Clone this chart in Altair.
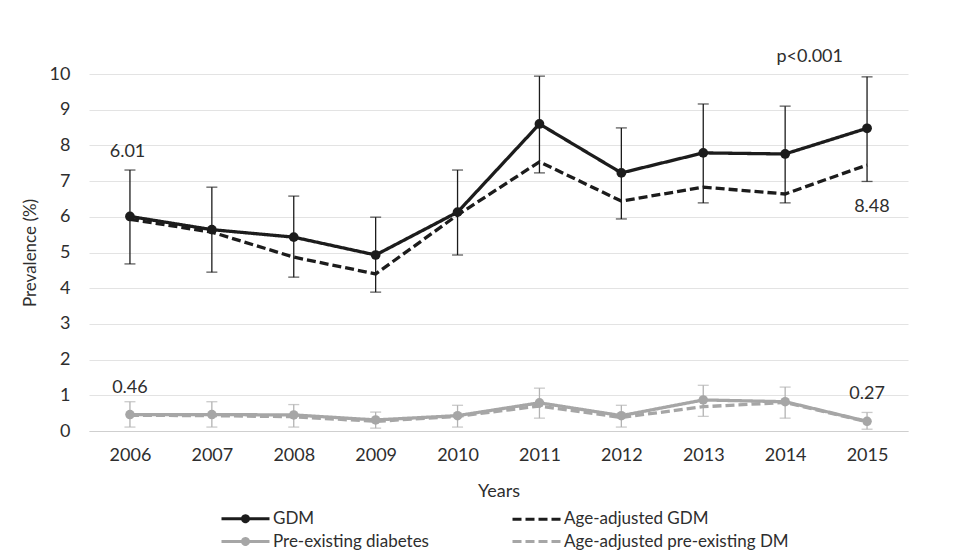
import altair as alt
import pandas as pd

years = list(range(2006, 2016))
gdm = [6.01, 5.64, 5.43, 4.93, 6.13, 8.60, 7.23, 7.79, 7.76, 8.48]
gdm_lo = [4.68, 4.45, 4.31, 3.89, 4.93, 7.23, 5.94, 6.39, 6.39, 6.99]
gdm_hi = [7.31, 6.83, 6.58, 5.99, 7.31, 9.94, 8.49, 9.16, 9.10, 9.92]
gdm_adj = [5.93, 5.57, 4.87, 4.40, 6.05, 7.54, 6.44, 6.83, 6.64, 7.45]
pre = [0.46, 0.46, 0.45, 0.31, 0.43, 0.79, 0.43, 0.87, 0.82, 0.27]
pre_lo = [0.11, 0.11, 0.11, 0.08, 0.11, 0.36, 0.11, 0.41, 0.36, 0.05]
pre_hi = [0.82, 0.82, 0.74, 0.53, 0.72, 1.20, 0.72, 1.28, 1.23, 0.52]
pre_adj = [0.44, 0.43, 0.40, 0.27, 0.41, 0.70, 0.38, 0.68, 0.80, 0.26]
y_ticks = list(range(0, 11))

series_names = ["GDM", "Age-adjusted GDM", "Pre-existing diabetes", "Age-adjusted pre-existing DM"]
series_colors = ["#1c1c1c", "#1c1c1c", "#a6a6a6", "#a6a6a6"]
series_dash = [[1, 0], [9, 4], [1, 0], [9, 4]]

ann_text = ["6.01", "p<0.001", "8.48", "0.46", "0.27"]
ann_x = [2005.97, 2014.3, 2015.06, 2006.0, 2015.0]
ann_y = [7.81, 10.48, 6.27, 1.2, 1.04]

FONT = "Lato"
TXT = "#2e2e2e"

lines_df = pd.concat([
    pd.DataFrame({"year": years, "value": vals, "series": name})
    for name, vals in zip(series_names, [gdm, gdm_adj, pre, pre_adj])
])
err_gdm = pd.DataFrame({"year": years, "v": gdm, "lo": gdm_lo, "hi": gdm_hi})
err_pre = pd.DataFrame({"year": years, "v": pre, "lo": pre_lo, "hi": pre_hi})
ann_df = pd.DataFrame({"x": ann_x, "y": ann_y, "t": ann_text})

xscale = alt.Scale(domain=[2005.5, 2015.5], nice=False, zero=False)
yscale = alt.Scale(domain=[0, 10], nice=False, zero=True)

xaxis = alt.Axis(values=years, format="d", grid=False, ticks=False, tickSize=0,
                 domainColor="#cfcfcf", labelFontSize=18, labelFont=FONT, labelColor=TXT,
                 labelPadding=15, labelOverlap=False, title="Years", titleFont=FONT, titleFontSize=18,
                 titleFontWeight="normal", titleColor=TXT, titlePadding=18)
yaxis = alt.Axis(values=y_ticks, grid=True, gridColor="#e3e3e3", domain=False,
                 ticks=False, tickSize=0, labelFontSize=18, labelFont=FONT, labelColor=TXT,
                 labelPadding=19, labelOverlap=False, title="Prevalence (%)", titleFont=FONT,
                 titleFontSize=17, titleFontWeight="normal", titleColor=TXT, titlePadding=10)


def X(f):
    return alt.X(f, type="quantitative", scale=xscale, axis=xaxis)


def Y(f):
    return alt.Y(f, type="quantitative", scale=yscale, axis=yaxis)


P_MARK = "M-2.4,0H2.4M0.3,0A0.3,0.3 0 1,1 -0.3,0A0.3,0.3 0 1,1 0.3,0Z"
P_LINE = "M-2.4,0H2.4"

legend = alt.Legend(
    title=None, orient="none", legendX=145, legendY=433, columns=2, direction="horizontal",
    columnPadding=77, rowPadding=2, padding=0, symbolSize=400, symbolStrokeWidth=3,
    labelFont=FONT, labelFontSize=17, labelColor=TXT, labelOffset=16, labelLimit=400,
)

color = alt.Color("series:N", scale=alt.Scale(domain=series_names, range=series_colors),
                  sort=series_names, legend=legend)
dash = alt.StrokeDash("series:N", scale=alt.Scale(domain=series_names, range=series_dash),
                      sort=series_names, legend=legend)
shape = alt.Shape("series:N", scale=alt.Scale(domain=series_names, range=[P_MARK, P_LINE, P_MARK, P_LINE]),
                  sort=series_names, legend=legend)


def errbars(df, col):
    base = alt.Chart(df)
    rule = base.mark_rule(color=col, strokeWidth=1.3).encode(x=X("year"), y=Y("lo"), y2="hi:Q")
    t1 = base.mark_tick(color=col, orient="horizontal", size=11, thickness=1.3).encode(x=X("year"), y=Y("lo"))
    t2 = base.mark_tick(color=col, orient="horizontal", size=11, thickness=1.3).encode(x=X("year"), y=Y("hi"))
    return rule + t1 + t2


lines = alt.Chart(lines_df).mark_line(strokeWidth=3.3).encode(
    x=X("year"), y=Y("value"), color=color, strokeDash=dash, order=alt.Order("year:Q"),
)

dummy = alt.Chart(lines_df).transform_filter("false").mark_point(filled=False, strokeWidth=3, opacity=1).encode(
    x=X("year"), y=Y("value"), color=color, strokeDash=dash, shape=shape,
)

pts_gdm = alt.Chart(err_gdm).mark_circle(size=95, opacity=1, color="#1c1c1c").encode(x=X("year"), y=Y("v"))
pts_pre = alt.Chart(err_pre).mark_circle(size=90, opacity=1, color="#a6a6a6").encode(x=X("year"), y=Y("v"))

ann = alt.Chart(ann_df).mark_text(font=FONT, fontSize=18, color=TXT).encode(
    x=X("x"), y=Y("y"), text="t:N")

chart = alt.layer(
    errbars(err_pre, "#b3b3b3"), errbars(err_gdm, "#1c1c1c"),
    lines, dummy, pts_pre, pts_gdm, ann,
).properties(
    width=819, height=357,
    autosize=alt.AutoSizeParams(type="none"),
    padding={"left": 81, "top": 66, "right": 20, "bottom": 128},
    background="white",
).configure_view(stroke=None)

chart.save("out.html", embed_options={"renderer": "svg", "actions": False})
